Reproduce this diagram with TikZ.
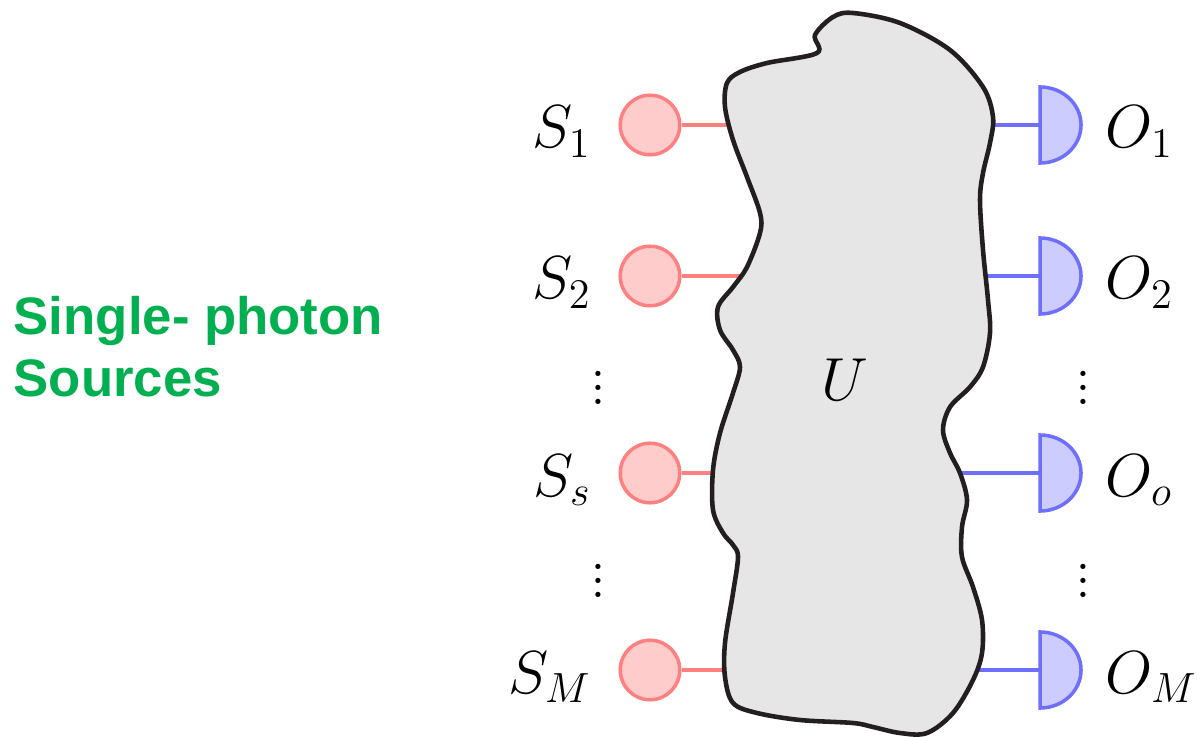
\documentclass[tikz,border=0pt]{standalone}
\usepackage{fontspec}
\newfontfamily\arialb{Liberation Sans}[BoldFont={Liberation Sans Bold}]
\definecolor{srcline}{RGB}{255,128,128}
\definecolor{srcfill}{RGB}{255,204,204}
\definecolor{detline}{RGB}{110,110,255}
\definecolor{detfill}{RGB}{204,204,255}
\definecolor{blobfill}{RGB}{230,230,230}
\definecolor{blobline}{RGB}{35,31,32}
\definecolor{greentxt}{RGB}{0,176,80}
\begin{document}
\begin{tikzpicture}[x=0.01cm,y=-0.01cm,
  src/.style={circle,draw=srcline,fill=srcfill,line width=1pt,minimum size=0.595cm,inner sep=0pt},
  rline/.style={draw=srcline,line width=0.95pt},
  bline/.style={draw=detline,line width=0.95pt},
  det/.style={draw=detline,fill=detfill,line width=1pt},
  lab/.style={inner sep=0pt,font=\fontsize{18}{20}\selectfont},
  blob/.style={draw=blobline,fill=blobfill,line width=1.3pt}]
\useasboundingbox (0,0) rectangle (1200,737);

% sources
\node[src] (s1) at (650,125) {};
\node[src] (s2) at (650,276) {};
\node[src] (ss) at (650,473) {};
\node[src] (sm) at (650,670) {};

% blob edge points
\coordinate (b1) at (730,125);
\coordinate (b2) at (740,276);
\coordinate (bs) at (716,473);
\coordinate (bm) at (726,670);
\coordinate (c1) at (990,125);
\coordinate (c2) at (987,276);
\coordinate (cs) at (957,473);
\coordinate (cm) at (977,670);

% detectors
\coordinate (d1) at (1040,125);
\coordinate (d2) at (1040,276);
\coordinate (ds) at (1040,473);
\coordinate (dm) at (1040,670);

\draw[rline] (s1) -- (b1);
\draw[rline] (s2) -- (b2);
\draw[rline] (ss) -- (bs);
\draw[rline] (sm) -- (bm);
\draw[bline] (c1) -- (d1);
\draw[bline] (c2) -- (d2);
\draw[bline] (cs) -- (ds);
\draw[bline] (cm) -- (dm);

% blob
\draw[blob] plot[smooth cycle, tension=0.55] coordinates {
 (817,53) (815,35) (833,17) (853,13) (900,23) (950,50) (983,87) (993,117)
 (990,143) (983,173) (980,200) (983,250) (988,300) (990,333) (983,367)
 (970,387) (950,407) (943,430) (950,453) (960,473) (967,500) (962,527)
 (962,557) (973,587) (982,620) (982,653) (973,680) (953,713) (927,733)
 (900,733) (873,727) (853,723) (800,720) (757,713) (733,703) (725,677)
 (725,643) (733,593) (738,557) (733,545) (723,533) (713,510) (713,470)
 (720,433) (733,393) (740,367) (733,350) (720,330) (718,307) (733,287)
 (747,267) (760,233) (760,213) (747,177) (733,140) (725,107) (727,83)
 (740,72) (767,63)};
\node[lab] (u) at (845,380) {$U$};

\foreach \d in {d1,d2,ds,dm}{
  \draw[det] ([yshift=-0.38cm]\d) -- ([yshift=0.38cm]\d) arc[start angle=90,end angle=-90,x radius=0.41cm,y radius=0.38cm] -- cycle;
}

% labels
\node[lab,anchor=base east] (ls1) at (592,148) {$S_1$};
\node[lab,anchor=base east] (ls2) at (592,299) {$S_2$};
\node[lab,anchor=base east] (lss) at (592,496) {$S_s$};
\node[lab,anchor=base east] (lsm) at (592,693) {$S_M$};
\node[lab,anchor=base west] (lo1) at (1105,148) {$O_1$};
\node[lab,anchor=base west] (lo2) at (1105,299) {$O_2$};
\node[lab,anchor=base west] (los) at (1105,496) {$O_o$};
\node[lab,anchor=base west] (lom) at (1105,693) {$O_M$};

\node[lab] (v1) at (598,377) {$\vdots$};
\node[lab] (v2) at (598,570) {$\vdots$};
\node[lab] (v3) at (1083,377) {$\vdots$};
\node[lab] (v4) at (1083,570) {$\vdots$};

\node[anchor=base west,align=left,inner sep=0pt,text=greentxt,
  font=\arialb\bfseries\fontsize{15}{17.8}\selectfont] (title) at (13,397)
  {Single- photon\\Sources};
\end{tikzpicture}
\end{document}
